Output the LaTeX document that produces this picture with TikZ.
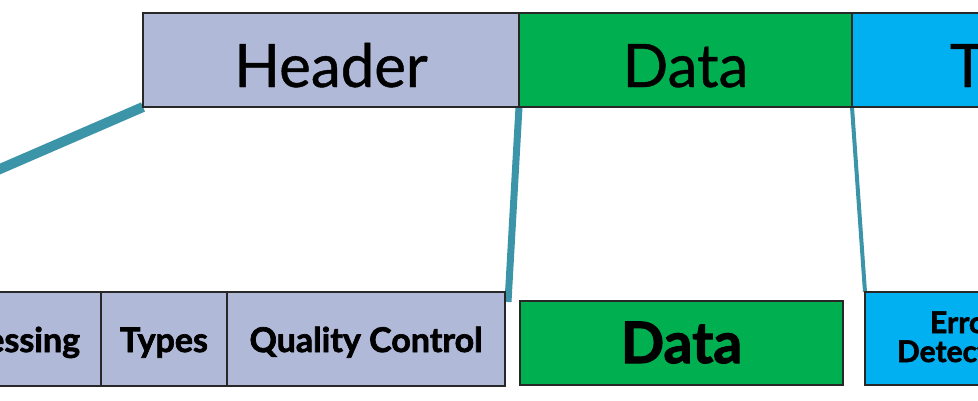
\documentclass[tikz,border=0pt]{standalone}
\usepackage{fontspec}
\setmainfont{Lato}[UprightFeatures={FakeBold=0.7},BoldFeatures={FakeBold=2}]
\definecolor{lav}{RGB}{176,185,216}
\definecolor{grn}{RGB}{0,176,80}
\definecolor{blu}{RGB}{0,176,240}
\definecolor{tealline}{RGB}{59,148,168}
\definecolor{edge}{RGB}{40,40,40}
\pgfdeclarelayer{bg}
\pgfsetlayers{bg,main}
\begin{document}
\begin{tikzpicture}[x=1pt,y=-1pt,
  cell/.style={draw=edge,line width=1.5pt,inner xsep=0pt,inner ysep=0pt,outer sep=0pt},
  topcell/.style={cell,text height=74pt,text depth=20pt,font=\fontsize{60}{64}\selectfont},
  lowcell/.style={cell,fill=lav,text height=60pt,text depth=34pt,font=\bfseries\fontsize{34}{38}\selectfont},
  link/.style={draw=tealline,line cap=butt}]
\useasboundingbox (0,0) rectangle (978,400);
\clip (0,0) rectangle (978,400);
% top frame
\node[topcell,fill=lav,anchor=north west,minimum width=376pt] (hdr) at (143,13) {Header};
\node[topcell,fill=grn,anchor=north west,minimum width=333pt] (dat) at (hdr.north east) {Data};
\node[topcell,fill=blu,anchor=north west,inner xsep=98pt] (trl) at (dat.north east) {Trailer};
% bottom row
\node[lowcell,anchor=north east,inner xsep=21pt] (adr) at (101,292) {Addressing};
\node[lowcell,anchor=north west,minimum width=126pt] (typ) at (adr.north east) {Types};
\node[lowcell,anchor=north west,minimum width=278pt] (qc) at (typ.north east) {Quality Control};
\node[cell,fill=grn,anchor=north west,minimum width=323pt,text height=62pt,text depth=22pt,
      font=\bfseries\fontsize{57}{60}\selectfont] (dat2) at (520,301) {Data};
\node[cell,fill=blu,anchor=north west,inner xsep=32pt,align=center,text height=70pt,text depth=23pt,
      font=\bfseries\fontsize{30}{29}\selectfont] (err) at (865,292) {Error\\Detection};
% connectors
\coordinate (hdrend) at (-120,221);
\coordinate (qcend) at (508,302);
\begin{pgfonlayer}{bg}
\draw[link,line width=10pt] (hdr.south west) -- (hdrend);
\draw[link,line width=7pt] (dat.south west) -- (qcend);
\draw[link,line width=4pt] (trl.south west) -- (err.north west);
\end{pgfonlayer}
\end{tikzpicture}
\end{document}
